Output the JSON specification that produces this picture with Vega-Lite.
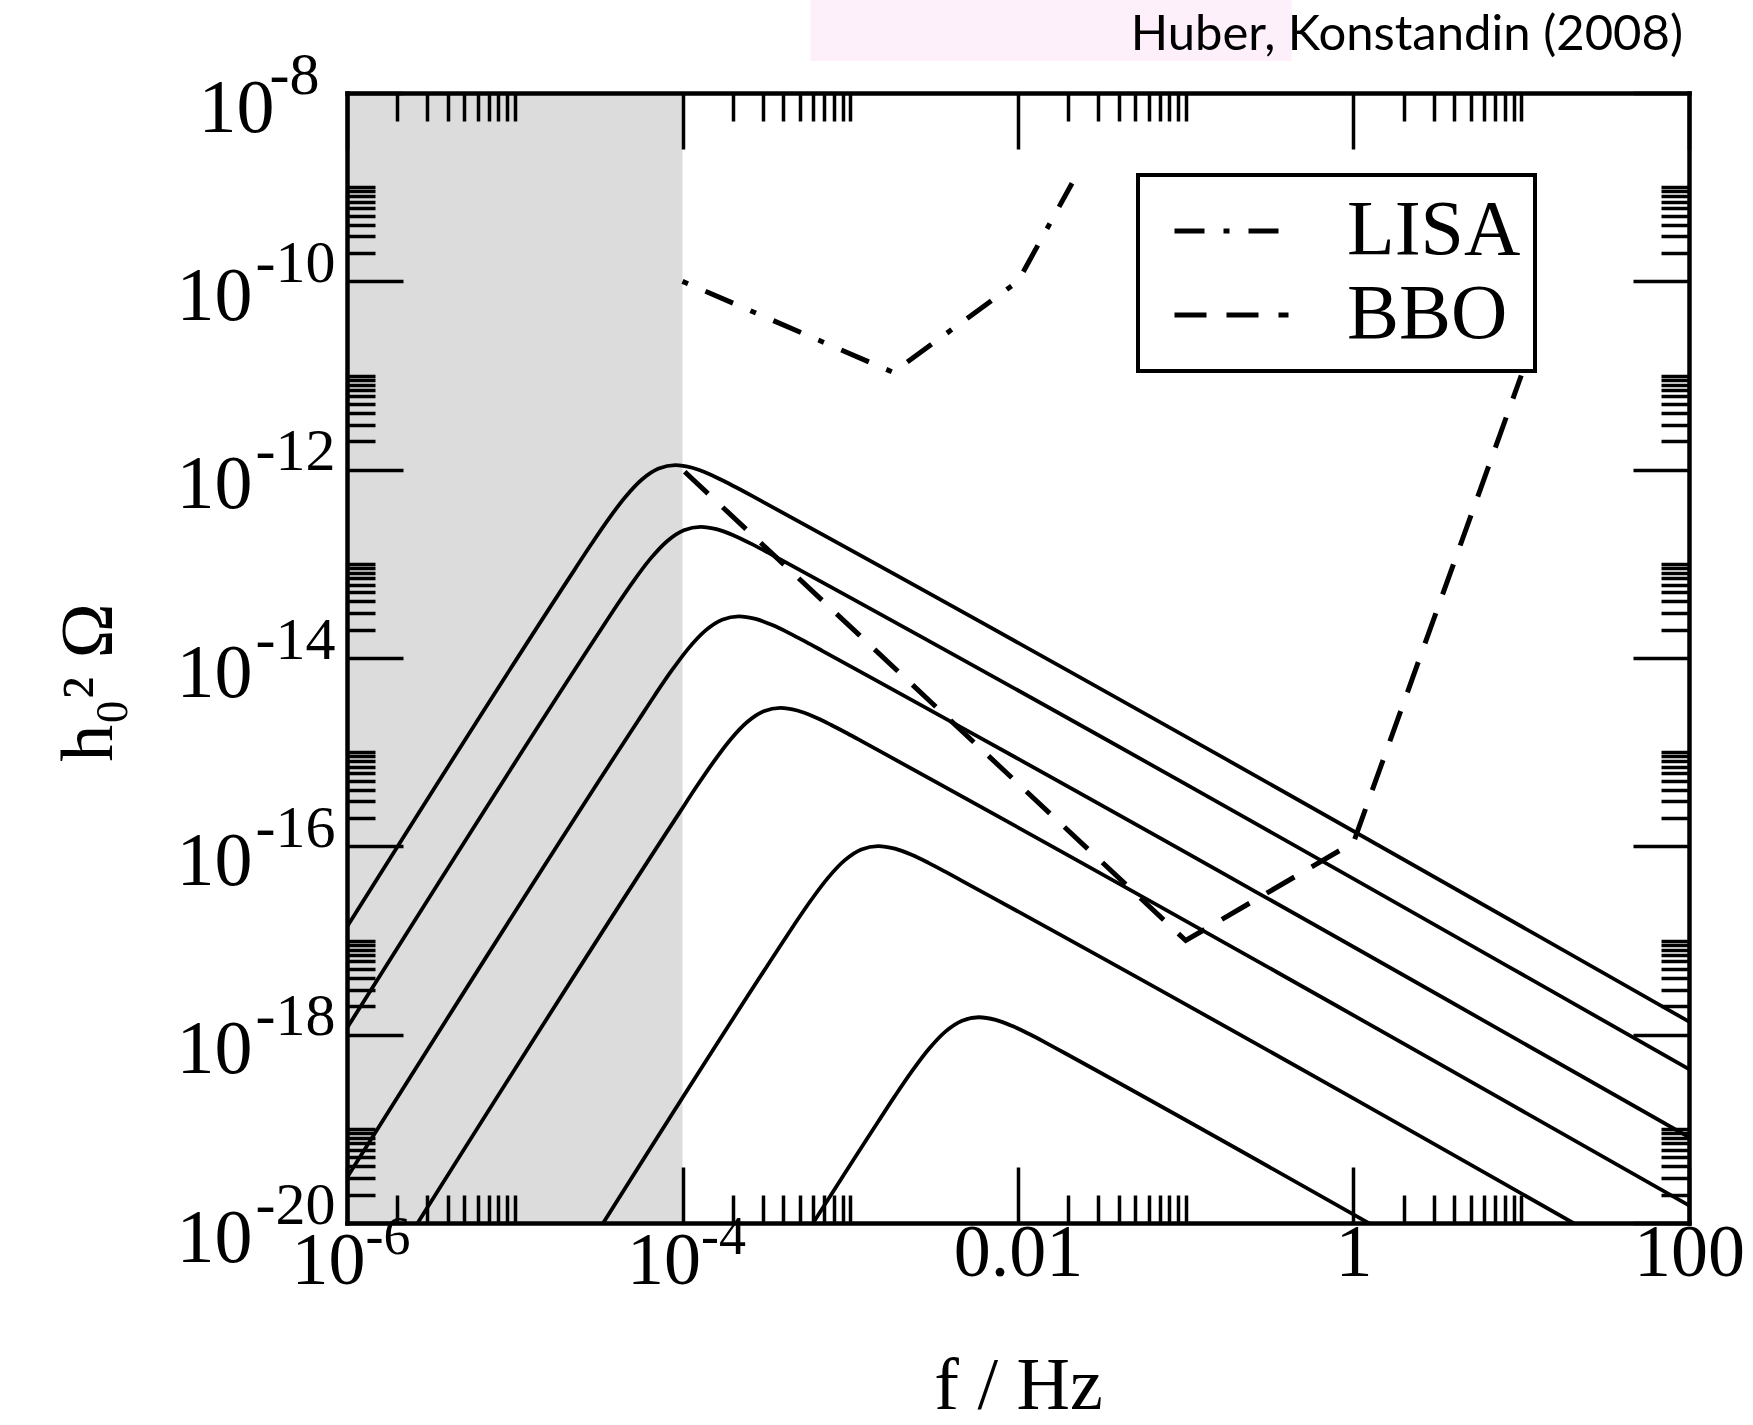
{
  "$schema": "https://vega.github.io/schema/vega-lite/v6.json",
  "width": 1342,
  "height": 1130,
  "autosize": {"type": "none"},
  "padding": {"left": 347, "top": 93, "right": 64, "bottom": 202},
  "background": "white",
  "title": {"text": "Huber, Konstandin (2008)", "anchor": "end", "frame": "group", "font": "Lato", "fontSize": 49, "fontWeight": "normal", "color": "black", "baseline": "alphabetic", "offset": -99, "dx": -6},
  "config": {
    "view": {"stroke": null},
    "axis": {"grid": false, "labelFlush": false, "labelOverlap": false, "labelColor": "black", "titleColor": "black", "labelFont": "Liberation Serif", "titleFont": "Liberation Serif", "titleFontWeight": "normal", "labelLimit": 400},
    "legend": {"strokeWidth": 4}
  },
  "datasets": {
    "band": [{"f1": 1e-6, "f2": 1e-4, "o1": 1e-20, "o2": 1e-8}],
    "pink": [{"f1": 5.79e-4, "f2": 0.428, "o1": 2.19e-8, "o2": 9.72e-8}],
    "curves": [
      {"curve": 1, "f": 1e-6, "omega": 1.396e-17},
      {"curve": 1, "f": 2.280e-5, "omega": 8.740e-14},
      {"curve": 1, "f": 2.871e-5, "omega": 1.632e-13},
      {"curve": 1, "f": 3.614e-5, "omega": 2.968e-13},
      {"curve": 1, "f": 4.550e-5, "omega": 5.100e-13},
      {"curve": 1, "f": 5.728e-5, "omega": 7.863e-13},
      {"curve": 1, "f": 7.211e-5, "omega": 1.028e-12},
      {"curve": 1, "f": 9.078e-5, "omega": 1.117e-12},
      {"curve": 1, "f": 1.143e-4, "omega": 1.048e-12},
      {"curve": 1, "f": 1.439e-4, "omega": 9.006e-13},
      {"curve": 1, "f": 1.811e-4, "omega": 7.404e-13},
      {"curve": 1, "f": 2.280e-4, "omega": 5.970e-13},
      {"curve": 1, "f": 2.871e-4, "omega": 4.771e-13},
      {"curve": 1, "f": 100, "omega": 1.377e-18},
      {"curve": 2, "f": 1e-6, "omega": 1.176e-18},
      {"curve": 2, "f": 3.221e-5, "omega": 1.934e-14},
      {"curve": 2, "f": 4.055e-5, "omega": 3.612e-14},
      {"curve": 2, "f": 5.105e-5, "omega": 6.569e-14},
      {"curve": 2, "f": 6.427e-5, "omega": 1.129e-13},
      {"curve": 2, "f": 8.091e-5, "omega": 1.740e-13},
      {"curve": 2, "f": 1.019e-4, "omega": 2.275e-13},
      {"curve": 2, "f": 1.283e-4, "omega": 2.472e-13},
      {"curve": 2, "f": 1.614e-4, "omega": 2.320e-13},
      {"curve": 2, "f": 2.032e-4, "omega": 1.993e-13},
      {"curve": 2, "f": 2.559e-4, "omega": 1.639e-13},
      {"curve": 2, "f": 3.221e-4, "omega": 1.321e-13},
      {"curve": 2, "f": 4.055e-4, "omega": 1.056e-13},
      {"curve": 2, "f": 100, "omega": 4.302e-19},
      {"curve": 3, "f": 1e-6, "omega": 3.034e-20},
      {"curve": 3, "f": 5.445e-5, "omega": 2.170e-15},
      {"curve": 3, "f": 6.855e-5, "omega": 4.053e-15},
      {"curve": 3, "f": 8.630e-5, "omega": 7.370e-15},
      {"curve": 3, "f": 1.086e-4, "omega": 1.266e-14},
      {"curve": 3, "f": 1.368e-4, "omega": 1.952e-14},
      {"curve": 3, "f": 1.722e-4, "omega": 2.552e-14},
      {"curve": 3, "f": 2.168e-4, "omega": 2.773e-14},
      {"curve": 3, "f": 2.729e-4, "omega": 2.602e-14},
      {"curve": 3, "f": 3.435e-4, "omega": 2.236e-14},
      {"curve": 3, "f": 4.325e-4, "omega": 1.839e-14},
      {"curve": 3, "f": 5.445e-4, "omega": 1.483e-14},
      {"curve": 3, "f": 6.855e-4, "omega": 1.185e-14},
      {"curve": 3, "f": 100, "omega": 8.158e-20},
      {"curve": 4, "f": 1.714e-6, "omega": 2.951e-21},
      {"curve": 4, "f": 9.639e-5, "omega": 2.310e-16},
      {"curve": 4, "f": 1.213e-4, "omega": 4.313e-16},
      {"curve": 4, "f": 1.528e-4, "omega": 7.843e-16},
      {"curve": 4, "f": 1.923e-4, "omega": 1.348e-15},
      {"curve": 4, "f": 2.421e-4, "omega": 2.078e-15},
      {"curve": 4, "f": 3.048e-4, "omega": 2.716e-15},
      {"curve": 4, "f": 3.837e-4, "omega": 2.951e-15},
      {"curve": 4, "f": 4.830e-4, "omega": 2.769e-15},
      {"curve": 4, "f": 6.081e-4, "omega": 2.380e-15},
      {"curve": 4, "f": 7.655e-4, "omega": 1.956e-15},
      {"curve": 4, "f": 9.639e-4, "omega": 1.578e-15},
      {"curve": 4, "f": 1.213e-3, "omega": 1.261e-15},
      {"curve": 4, "f": 100, "omega": 1.537e-20},
      {"curve": 5, "f": 2.218e-5, "omega": 3.068e-21},
      {"curve": 5, "f": 3.681e-4, "omega": 7.879e-18},
      {"curve": 5, "f": 4.635e-4, "omega": 1.472e-17},
      {"curve": 5, "f": 5.834e-4, "omega": 2.676e-17},
      {"curve": 5, "f": 7.344e-4, "omega": 4.598e-17},
      {"curve": 5, "f": 9.248e-4, "omega": 7.089e-17},
      {"curve": 5, "f": 1.164e-3, "omega": 9.267e-17},
      {"curve": 5, "f": 1.466e-3, "omega": 1.007e-16},
      {"curve": 5, "f": 1.845e-3, "omega": 9.450e-17},
      {"curve": 5, "f": 2.323e-3, "omega": 8.119e-17},
      {"curve": 5, "f": 2.924e-3, "omega": 6.676e-17},
      {"curve": 5, "f": 3.681e-3, "omega": 5.382e-17},
      {"curve": 5, "f": 4.635e-3, "omega": 4.302e-17},
      {"curve": 5, "f": 100, "omega": 2.005e-21},
      {"curve": 6, "f": 3.690e-4, "omega": 2.540e-21},
      {"curve": 6, "f": 1.469e-3, "omega": 1.198e-19},
      {"curve": 6, "f": 1.849e-3, "omega": 2.238e-19},
      {"curve": 6, "f": 2.328e-3, "omega": 4.069e-19},
      {"curve": 6, "f": 2.931e-3, "omega": 6.992e-19},
      {"curve": 6, "f": 3.690e-3, "omega": 1.078e-18},
      {"curve": 6, "f": 4.645e-3, "omega": 1.409e-18},
      {"curve": 6, "f": 5.847e-3, "omega": 1.531e-18},
      {"curve": 6, "f": 7.361e-3, "omega": 1.437e-18},
      {"curve": 6, "f": 9.269e-3, "omega": 1.234e-18},
      {"curve": 6, "f": 1.167e-2, "omega": 1.015e-18},
      {"curve": 6, "f": 1.469e-2, "omega": 8.184e-19},
      {"curve": 6, "f": 1.849e-2, "omega": 6.542e-19},
      {"curve": 6, "f": 3.981, "omega": 3.052e-21}
    ],
    "detectors": [
      {"detector": "LISA", "f": 1e-4, "omega": 1e-10},
      {"detector": "LISA", "f": 1.8e-3, "omega": 1.08e-11},
      {"detector": "LISA", "f": 0.01, "omega": 1e-10},
      {"detector": "LISA", "f": 0.021, "omega": 1.1e-9},
      {"detector": "BBO", "f": 1e-4, "omega": 1e-12},
      {"detector": "BBO", "f": 0.1, "omega": 1e-17},
      {"detector": "BBO", "f": 1, "omega": 1.1e-16},
      {"detector": "BBO", "f": 10, "omega": 1e-11}
    ]
  },
  "layer": [
    {
      "data": {"name": "pink"},
      "mark": {"type": "rect", "color": "#fdf0fb", "clip": false},
      "encoding": {
        "x": {"field": "f1", "type": "quantitative", "scale": {"type": "log", "domain": [1e-6, 100], "nice": false},
              "axis": {"orient": "bottom", "values": [1e-6, 1e-4], "ticks": false, "tickSize": 0, "domain": false, "labelExpr": "'-' + round(-log(datum.value)/LN10)", "labelFontSize": 54, "labelAlign": "left", "labelBaseline": "alphabetic", "labelPadding": 30, "labelOffset": 18, "title": null, "zindex": 1}},
        "x2": {"field": "f2"},
        "y": {"field": "o1", "type": "quantitative", "scale": {"type": "log", "domain": [1e-20, 1e-8], "nice": false},
              "axis": {"orient": "left", "values": [1e-20, 1e-18, 1e-16, 1e-14, 1e-12, 1e-10, 1e-8], "ticks": false, "tickSize": 0, "domain": false, "labelExpr": "'-' + round(-log(datum.value)/LN10)", "labelFontSize": 60, "labelAlign": "right", "labelBaseline": "alphabetic", "labelOffset": 0, "labelPadding": {"condition": {"test": "datum.value > 1e-9", "value": 28}, "value": 12}, "title": null, "zindex": 1}},
        "y2": {"field": "o2"}
      }
    },
    {
      "data": {"name": "band"},
      "mark": {"type": "rect", "color": "#dcdcdc"},
      "encoding": {
        "x": {"field": "f1", "type": "quantitative", "scale": {"type": "log", "domain": [1e-6, 100], "nice": false},
              "axis": {"orient": "bottom", "values": [1e-6, 2e-6, 3e-6, 4e-6, 5e-6, 6e-6, 7e-6, 8e-6, 9e-6, 1e-5, 1e-4, 2e-4, 3e-4, 4e-4, 5e-4, 6e-4, 7e-4, 8e-4, 9e-4, 1e-3, 1e-2, 2e-2, 3e-2, 4e-2, 5e-2, 6e-2, 7e-2, 8e-2, 9e-2, 0.1, 1, 2, 3, 4, 5, 6, 7, 8, 9, 10, 100],
                       "labels": false, "ticks": true, "tickSize": {"condition": {"test": "abs(log(datum.value)/LN10 - round(log(datum.value)/LN10)) < 0.01 && round(log(datum.value)/LN10) % 2 == 0", "value": -56}, "value": -28},
                       "tickWidth": 3.5, "tickColor": "black", "domain": true, "domainColor": "black", "domainWidth": 4.5, "domainCap": "square", "title": null, "zindex": 1}},
        "x2": {"field": "f2"},
        "y": {"field": "o1", "type": "quantitative", "scale": {"type": "log", "domain": [1e-20, 1e-8], "nice": false},
              "axis": {"orient": "left", "values": [1e-20, 2e-20, 3e-20, 4e-20, 5e-20, 6e-20, 7e-20, 8e-20, 9e-20, 1e-19, 1e-18, 2e-18, 3e-18, 4e-18, 5e-18, 6e-18, 7e-18, 8e-18, 9e-18, 1e-17, 1e-16, 2e-16, 3e-16, 4e-16, 5e-16, 6e-16, 7e-16, 8e-16, 9e-16, 1e-15, 1e-14, 2e-14, 3e-14, 4e-14, 5e-14, 6e-14, 7e-14, 8e-14, 9e-14, 1e-13, 1e-12, 2e-12, 3e-12, 4e-12, 5e-12, 6e-12, 7e-12, 8e-12, 9e-12, 1e-11, 1e-10, 2e-10, 3e-10, 4e-10, 5e-10, 6e-10, 7e-10, 8e-10, 9e-10, 1e-9, 1e-8],
                       "labels": false, "ticks": true, "tickSize": {"condition": {"test": "abs(log(datum.value)/LN10 - round(log(datum.value)/LN10)) < 0.01 && round(log(datum.value)/LN10) % 2 == 0", "value": -56}, "value": -28},
                       "tickWidth": 3.5, "tickColor": "black", "domain": true, "domainColor": "black", "domainWidth": 4.5, "domainCap": "square", "title": null, "zindex": 1}},
        "y2": {"field": "o2"}
      }
    },
    {
      "data": {"name": "curves"},
      "mark": {"type": "line", "color": "black", "strokeWidth": 3.8, "interpolate": "monotone", "clip": true},
      "encoding": {
        "x": {"field": "f", "type": "quantitative", "scale": {"type": "log", "domain": [1e-6, 100], "nice": false},
              "axis": {"orient": "top", "values": [1e-6, 2e-6, 3e-6, 4e-6, 5e-6, 6e-6, 7e-6, 8e-6, 9e-6, 1e-5, 1e-4, 2e-4, 3e-4, 4e-4, 5e-4, 6e-4, 7e-4, 8e-4, 9e-4, 1e-3, 1e-2, 2e-2, 3e-2, 4e-2, 5e-2, 6e-2, 7e-2, 8e-2, 9e-2, 0.1, 1, 2, 3, 4, 5, 6, 7, 8, 9, 10, 100],
                       "labels": false, "ticks": true, "tickSize": {"condition": {"test": "abs(log(datum.value)/LN10 - round(log(datum.value)/LN10)) < 0.01 && round(log(datum.value)/LN10) % 2 == 0", "value": -56}, "value": -28},
                       "tickWidth": 3.5, "tickColor": "black", "domain": true, "domainColor": "black", "domainWidth": 4.5, "domainCap": "square", "title": null, "zindex": 1}},
        "y": {"field": "omega", "type": "quantitative", "scale": {"type": "log", "domain": [1e-20, 1e-8], "nice": false},
              "axis": {"orient": "right", "values": [1e-20, 2e-20, 3e-20, 4e-20, 5e-20, 6e-20, 7e-20, 8e-20, 9e-20, 1e-19, 1e-18, 2e-18, 3e-18, 4e-18, 5e-18, 6e-18, 7e-18, 8e-18, 9e-18, 1e-17, 1e-16, 2e-16, 3e-16, 4e-16, 5e-16, 6e-16, 7e-16, 8e-16, 9e-16, 1e-15, 1e-14, 2e-14, 3e-14, 4e-14, 5e-14, 6e-14, 7e-14, 8e-14, 9e-14, 1e-13, 1e-12, 2e-12, 3e-12, 4e-12, 5e-12, 6e-12, 7e-12, 8e-12, 9e-12, 1e-11, 1e-10, 2e-10, 3e-10, 4e-10, 5e-10, 6e-10, 7e-10, 8e-10, 9e-10, 1e-9, 1e-8],
                       "labels": false, "ticks": true, "tickSize": {"condition": {"test": "abs(log(datum.value)/LN10 - round(log(datum.value)/LN10)) < 0.01 && round(log(datum.value)/LN10) % 2 == 0", "value": -56}, "value": -28},
                       "tickWidth": 3.5, "tickColor": "black", "domain": true, "domainColor": "black", "domainWidth": 4.5, "domainCap": "square", "title": null, "zindex": 1}},
        "detail": {"field": "curve", "type": "nominal"}
      }
    },
    {
      "data": {"name": "detectors"},
      "mark": {"type": "line", "color": "black", "strokeWidth": 5, "clip": true, "strokeCap": "butt", "strokeDashOffset": 49},
      "encoding": {
        "x": {"field": "f", "type": "quantitative", "scale": {"type": "log", "domain": [1e-6, 100], "nice": false},
              "axis": {"orient": "bottom", "values": [1e-6, 1e-4, 0.01, 1, 100], "ticks": false, "tickSize": 0, "domain": false,
                       "labelExpr": "datum.value < 0.001 ? '10' : datum.value < 0.1 ? '0.01' : datum.value < 10 ? '1' : '100'",
                       "labelFontSize": 74, "labelAlign": "center", "labelBaseline": "alphabetic",
                       "labelPadding": {"condition": {"test": "datum.value < 0.001", "value": 60}, "value": 52},
                       "labelOffset": {"condition": {"test": "datum.value < 0.001", "value": -19}, "value": 0},
                       "title": "f / Hz", "titleFontSize": 74, "titleY": 185, "titleBaseline": "alphabetic", "zindex": 1}},
        "y": {"field": "omega", "type": "quantitative", "scale": {"type": "log", "domain": [1e-20, 1e-8], "nice": false},
              "axis": {"orient": "left", "values": [1e-20, 1e-18, 1e-16, 1e-14, 1e-12, 1e-10, 1e-8], "ticks": false, "tickSize": 0, "domain": false,
                       "labelExpr": "'10'", "labelFontSize": 76, "labelAlign": "right", "labelBaseline": "alphabetic", "labelOffset": 38,
                       "labelPadding": {"condition": {"test": "datum.value > 1e-9", "value": 73}, "value": 95},
                       "title": "h₀² Ω", "titleFontSize": 74, "titleAngle": 270, "titleX": -258, "titleY": 589, "titleAlign": "center", "titleBaseline": "middle", "zindex": 1}},
        "strokeDash": {"field": "detector", "type": "nominal",
                       "scale": {"domain": ["LISA", "BBO"], "range": [[30, 19, 6, 19], [32, 20]]},
                       "legend": {"orient": "none", "legendX": 791, "legendY": 82, "title": null, "fillColor": "white", "strokeColor": "black",
                                  "padding": 14, "clipHeight": 84, "symbolType": "stroke", "symbolSize": 12996, "symbolStrokeWidth": 5, "symbolStrokeColor": "black", "symbolOffset": 20,
                                  "labelFont": "Liberation Serif", "labelFontSize": 78, "labelColor": "black", "labelOffset": 56, "labelLimit": 400, "rowPadding": 0, "zindex": 2}}
      }
    }
  ],
  "resolve": {"axis": {"x": "independent", "y": "independent"}}
}
